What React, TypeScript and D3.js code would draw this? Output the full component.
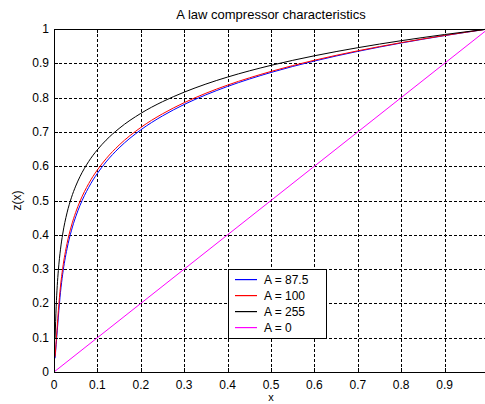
import * as d3 from "d3";
import React from "react";

// sample points along x (shared by all A-law curves)
const xs = [0.0025, 0.005, 0.0075, 0.01, 0.015, 0.02, 0.03, 0.04, 0.05, 0.06, 0.08, 0.1, 0.12, 0.15, 0.2, 0.25, 0.3, 0.35, 0.4, 0.5, 0.6, 0.7, 0.8, 0.9, 1];

const zA875 = [0.04, 0.08, 0.12, 0.16, 0.2325, 0.285, 0.3591, 0.4117, 0.4525, 0.4858, 0.5384, 0.5792, 0.6125, 0.6533, 0.7059, 0.7466, 0.78, 0.8081, 0.8325, 0.8733, 0.9066, 0.9348, 0.9592, 0.9807, 1];
const zA100 = [0.0446, 0.0892, 0.1338, 0.1784, 0.2507, 0.3021, 0.3744, 0.4257, 0.4656, 0.4981, 0.5494, 0.5892, 0.6217, 0.6615, 0.7129, 0.7527, 0.7852, 0.8127, 0.8365, 0.8763, 0.9089, 0.9364, 0.9602, 0.9812, 1];
const zA255 = [0.0975, 0.19, 0.252, 0.296, 0.358, 0.402, 0.4639, 0.5079, 0.542, 0.5699, 0.6139, 0.648, 0.6759, 0.71, 0.754, 0.7881, 0.8159, 0.8395, 0.8599, 0.894, 0.9219, 0.9455, 0.9659, 0.9839, 1];
const xsA0 = [0, 1];
const zA0 = [0, 1];

const legendLabels = ["A = 87.5", "A = 100", "A = 255", "A = 0"];
const colors = ["#0000ff", "#ff0000", "#000000", "#ff00ff"];

const xTicks = [0, 0.1, 0.2, 0.3, 0.4, 0.5, 0.6, 0.7, 0.8, 0.9, 1];
const xTickLabels = ["0", "0.1", "0.2", "0.3", "0.4", "0.5", "0.6", "0.7", "0.8", "0.9"];
const yTicks = [0, 0.1, 0.2, 0.3, 0.4, 0.5, 0.6, 0.7, 0.8, 0.9, 1];
const yTickLabels = ["0", "0.1", "0.2", "0.3", "0.4", "0.5", "0.6", "0.7", "0.8", "0.9", "1"];

const App = () => {
    const width = 485;
    const height = 404;
    const left = 54, right = 488, top = 29, bottom = 372;

    const xScale = d3.scaleLinear().domain([0, 1]).range([left, right]);
    const yScale = d3.scaleLinear().domain([0, 1]).range([bottom, top]);

    const line = d3.line<[number, number]>()
        .x(d => xScale(d[0]))
        .y(d => yScale(d[1]))
        .curve(d3.curveMonotoneX);

    const series = [
        xs.map((x, i) => [x, zA875[i]] as [number, number]),
        xs.map((x, i) => [x, zA100[i]] as [number, number]),
        xs.map((x, i) => [x, zA255[i]] as [number, number]),
        xsA0.map((x, i) => [x, zA0[i]] as [number, number]),
    ];

    const font = "'Liberation Sans', Arial, sans-serif";
    const px = (v: number) => Math.round(v) + 0.5;

    // legend box
    const lg = { x: 228, y: 269, w: 98, h: 69 };

    return (
        <svg width={width} height={height} style={{ position: "absolute", left: 0, top: 0, background: "#fff" }} fontFamily={font}>
            <rect x={0} y={0} width={width} height={height} fill="#fff" />
            {/* grid */}
            <g stroke="#000" strokeWidth={1} strokeDasharray="3,2" shapeRendering="crispEdges">
                {xTicks.filter(t => t > 0 && t < 1).map(t => (
                    <line key={"gx" + t} x1={px(xScale(t))} x2={px(xScale(t))} y1={bottom} y2={top} />
                ))}
                {yTicks.filter(t => t > 0 && t < 1).map(t => (
                    <line key={"gy" + t} x1={left} x2={right} y1={px(yScale(t))} y2={px(yScale(t))} />
                ))}
            </g>
            {/* curves */}
            {series.map((s, i) => (
                <path key={i} d={line(s) || ""} fill="none" stroke={colors[i]} strokeWidth={1} />
            ))}
            {/* axes box */}
            <rect x={left + 0.5} y={top + 0.5} width={right - left} height={bottom - top} fill="none" stroke="#000" strokeWidth={1} shapeRendering="crispEdges" />
            {/* ticks */}
            <g stroke="#000" strokeWidth={1} shapeRendering="crispEdges">
                {xTicks.map(t => (
                    <g key={"tx" + t}>
                        <line x1={px(xScale(t))} x2={px(xScale(t))} y1={bottom} y2={bottom - 4} />
                        <line x1={px(xScale(t))} x2={px(xScale(t))} y1={top} y2={top + 4} />
                    </g>
                ))}
                {yTicks.map(t => (
                    <g key={"ty" + t}>
                        <line x1={left} x2={left + 4} y1={px(yScale(t))} y2={px(yScale(t))} />
                        <line x1={right} x2={right - 4} y1={px(yScale(t))} y2={px(yScale(t))} />
                    </g>
                ))}
            </g>
            {/* tick labels */}
            <g fontSize={12} fill="#000">
                {xTickLabels.map((lab, i) => (
                    <text key={"lx" + lab} x={xScale(xTicks[i])} y={bottom + 17} textAnchor="middle">{lab}</text>
                ))}
                {yTickLabels.map((lab, i) => (
                    <text key={"ly" + lab} x={left - 5} y={yScale(yTicks[i]) + 4} textAnchor="end">{lab}</text>
                ))}
            </g>
            {/* labels */}
            <text x={(left + right) / 2} y={19} textAnchor="middle" fontSize={13}>A law compressor characteristics</text>
            <text x={(left + right) / 2} y={401} textAnchor="middle" fontSize={11}>x</text>
            <text transform={`translate(21,${(top + bottom) / 2}) rotate(-90)`} textAnchor="middle" fontSize={12}>z(x)</text>
            {/* legend */}
            <rect x={lg.x + 0.5} y={lg.y + 0.5} width={lg.w} height={lg.h} fill="#fff" stroke="#000" shapeRendering="crispEdges" />
            {legendLabels.map((lab, i) => {
                const cy = lg.y + 10 + i * 16;
                return (
                    <g key={lab}>
                        <rect x={lg.x + 7} y={cy} width={22} height={1.2} fill={colors[i]} />
                        <text x={lg.x + 36} y={cy + 4.5} fontSize={12} fill="#000">{lab}</text>
                    </g>
                );
            })}
        </svg>
    );
};

export default App;
